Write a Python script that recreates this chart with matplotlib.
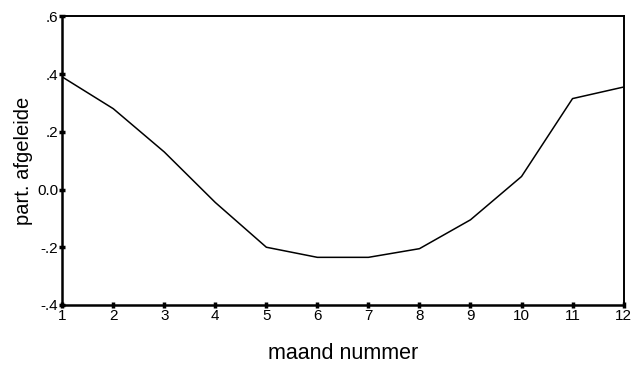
import numpy as np
import matplotlib.pyplot as plt

plt.rcParams['font.family'] = ['Liberation Sans', 'DejaVu Sans']

# --- Data ---
months = [1, 2, 3, 4, 5, 6, 7, 8, 9, 10, 11, 12]
part_afgeleide = [0.39, 0.28, 0.13, -0.045, -0.20, -0.235, -0.235, -0.205,
                  -0.105, 0.045, 0.315, 0.355]
y_ticks = [-0.4, -0.2, 0.0, 0.2, 0.4, 0.6]
y_tick_labels = ["-.4", "-.2", "0.0", ".2", ".4", ".6"]

fig = plt.figure(figsize=(6.35, 3.71), dpi=100)
ax = fig.add_axes([0.098, 0.178, 0.884, 0.778])

ax.plot(months, part_afgeleide, color='black', linewidth=1.1)

ax.set_xlim(1, 12)
ax.set_ylim(-0.4, 0.6)
ax.set_xticks(months)
ax.set_yticks(y_ticks)
ax.set_yticklabels(y_tick_labels)
ax.tick_params(axis='both', direction='inout', length=4, width=2.5,
               labelsize=11, pad=1)

for side in ['left', 'bottom']:
    ax.spines[side].set_linewidth(1.8)
for side in ['top', 'right']:
    ax.spines[side].set_linewidth(1.4)

ax.set_xlabel("maand nummer", fontsize=15.5, labelpad=14)
ax.set_ylabel("part. afgeleide", fontsize=14.5, labelpad=3)

plt.savefig("out.png", dpi=100)
